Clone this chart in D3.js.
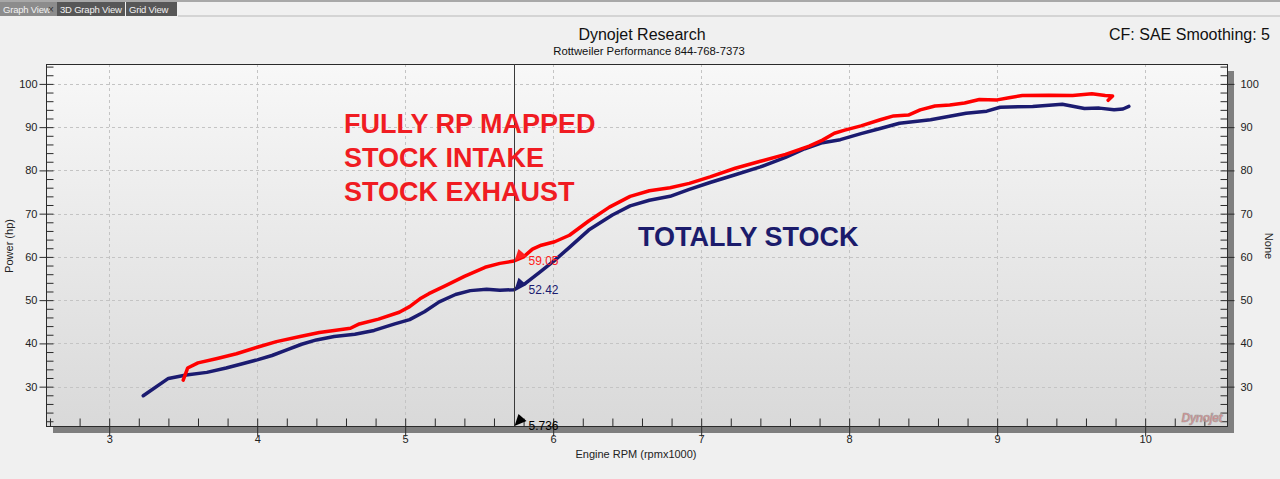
<!DOCTYPE html>
<html><head><meta charset="utf-8">
<script src="https://cdn.jsdelivr.net/npm/d3@7/dist/d3.min.js"></script>
<style>
html,body{margin:0;padding:0;background:#f0f0f0;overflow:hidden;}
svg{display:block;font-family:"Liberation Sans",Arial,sans-serif;}
</style></head>
<body>
<svg id="c" width="1280" height="479"></svg>
<script>
// ---- data ----
const xTicks = [3, 4, 5, 6, 7, 8, 9, 10];
const yTicks = [30, 40, 50, 60, 70, 80, 90, 100];
const tabLabels = ["Graph View", "3D Graph View", "Grid View"];
const annotationLines = ["FULLY RP MAPPED", "STOCK INTAKE", "STOCK EXHAUST"];
const stockLabel = "TOTALLY STOCK";
const cursorRpm = 5.736;
const cursorMapped = 59.05;
const cursorStock = 52.42;

// RP mapped run (rpm x1000, hp)
const mappedRpm = [3.50,3.53,3.60,3.73,3.86,4.00,4.13,4.29,4.42,4.52,4.63,4.69,4.82,4.96,5.03,5.10,5.16,5.27,5.40,5.54,5.64,5.736,5.80,5.86,5.92,6.01,6.11,6.24,6.38,6.52,6.65,6.79,6.92,7.06,7.23,7.40,7.57,7.73,7.82,7.90,7.97,8.08,8.21,8.30,8.40,8.48,8.58,8.68,8.78,8.88,9.00,9.08,9.17,9.35,9.51,9.64,9.73,9.78,9.75];
const mappedHp  = [31.5,34.3,35.5,36.5,37.6,39.1,40.4,41.6,42.5,43.0,43.5,44.5,45.6,47.2,48.5,50.3,51.5,53.3,55.5,57.6,58.5,59.05,60.0,61.8,62.7,63.5,65.0,68.3,71.5,74.0,75.3,76.0,77.0,78.5,80.5,82.1,83.7,85.6,87.0,88.6,89.3,90.3,91.7,92.6,92.8,94.0,94.9,95.1,95.6,96.4,96.3,96.8,97.3,97.4,97.3,97.7,97.3,97.2,96.2];

// Totally stock run
const stockRpm = [3.23,3.40,3.52,3.66,3.79,3.90,4.00,4.10,4.20,4.30,4.40,4.52,4.66,4.79,4.93,5.03,5.13,5.23,5.34,5.44,5.55,5.64,5.736,5.81,5.91,6.01,6.11,6.24,6.40,6.52,6.65,6.79,6.92,7.06,7.23,7.40,7.57,7.70,7.82,7.94,8.08,8.21,8.34,8.55,8.79,8.93,9.02,9.24,9.44,9.59,9.69,9.79,9.85,9.89];
const stockHp  = [27.9,31.9,32.7,33.3,34.3,35.3,36.2,37.2,38.5,39.8,40.8,41.6,42.1,43.0,44.5,45.5,47.3,49.6,51.3,52.2,52.5,52.3,52.42,53.8,56.5,59.2,62.2,66.2,69.7,71.8,73.1,74.0,75.6,77.2,79.0,80.8,83.0,85.0,86.4,87.1,88.5,89.7,90.9,91.7,93.2,93.7,94.6,94.8,95.3,94.3,94.4,94.0,94.2,94.8];

const xMinor = d3.range(2.6, 10.55, 0.2).map(v => +v.toFixed(1));
const yMinor = d3.range(22, 105, 2);

// ---- layout ----
const L = 46, R = 1227, T = 64, B = 426;
const x = d3.scaleLinear().domain([2.573, 10.553]).range([L, R]);
const y = d3.scaleLinear().domain([20.9, 104.6]).range([B, T]);

const svg = d3.select("#c");
const defs = svg.append("defs");
const g = defs.append("linearGradient").attr("id","bg").attr("x1",0).attr("y1",0).attr("x2",0).attr("y2",1);
g.append("stop").attr("offset","0%").attr("stop-color","#f8f8f8");
g.append("stop").attr("offset","100%").attr("stop-color","#d9d9d9");

// tabs
svg.append("rect").attr("x",0).attr("y",0).attr("width",1280).attr("height",2).attr("fill","#a8a8a8");
svg.append("rect").attr("x",178).attr("y",15.5).attr("width",1102).attr("height",1).attr("fill","#b8b8b8");
const tabX = [0, 57, 126, 178];
tabLabels.forEach((t, i) => {
  svg.append("rect").attr("x", tabX[i]).attr("y", 2).attr("width", tabX[i+1]-tabX[i]-(i>0?1:0)).attr("height", 14)
     .attr("fill", i === 0 ? "#8c8c8c" : "#575757");
  svg.append("text").attr("x", tabX[i] + 3).attr("y", 12.5).attr("font-size", 9.5).attr("letter-spacing", -0.2).attr("fill", "#f2f2f2").text(t);
});
svg.append("text").attr("x", 48).attr("y", 12.5).attr("font-size", 10).attr("fill", "#333").text("×");

// titles
svg.append("text").attr("x", 642).attr("y", 40).attr("text-anchor","middle").attr("font-size",16).attr("fill","#111").text("Dynojet Research");
svg.append("text").attr("x", 649).attr("y", 55).attr("text-anchor","middle").attr("font-size",11.3).attr("fill","#111").text("Rottweiler Performance 844-768-7373");
svg.append("text").attr("x", 1270).attr("y", 40).attr("text-anchor","end").attr("font-size",16).attr("fill","#111").text("CF: SAE Smoothing: 5");

// shadow
svg.append("rect").attr("x", R).attr("y", T+7).attr("width", 7).attr("height", B - T).attr("fill","#7f7f7f");
svg.append("rect").attr("x", L+7).attr("y", B).attr("width", R - L).attr("height", 7).attr("fill","#7f7f7f");

// plot bg
svg.append("rect").attr("x", L).attr("y", T).attr("width", R-L).attr("height", B-T).attr("fill","url(#bg)");

// grid
const grid = svg.append("g").attr("stroke","#c4c4c4").attr("stroke-dasharray","3,3").attr("stroke-width",1);
yTicks.forEach(v => grid.append("line").attr("x1",L).attr("x2",R).attr("y1",Math.round(y(v))+0.5).attr("y2",Math.round(y(v))+0.5));
xTicks.forEach(v => grid.append("line").attr("y1",T).attr("y2",B).attr("x1",Math.round(x(v))+0.5).attr("x2",Math.round(x(v))+0.5));

// border
svg.append("rect").attr("x",L+0.5).attr("y",T+0.5).attr("width",R-L).attr("height",B-T).attr("fill","none").attr("stroke","#2b2b2b").attr("stroke-width",1);

// axes
function styleAxis(sel){ sel.select(".domain").remove(); sel.selectAll("line").attr("stroke","#2b2b2b"); sel.selectAll("text").attr("fill","#222").attr("font-size",11).attr("font-family","Liberation Sans, Arial, sans-serif"); }
svg.append("g").attr("transform",`translate(${L+0.5},0)`).call(d3.axisLeft(y).tickValues(yTicks).tickSize(7).tickPadding(2)).call(styleAxis);
svg.append("g").attr("transform",`translate(${L+0.5},0)`).call(d3.axisRight(y).tickValues(yMinor).tickSize(7).tickFormat("")).call(styleAxis);
svg.append("g").attr("transform",`translate(${R+0.5},0)`).call(d3.axisRight(y).tickValues(yTicks).tickSize(7).tickPadding(6)).call(styleAxis);
svg.append("g").attr("transform",`translate(${R+0.5},0)`).call(d3.axisLeft(y).tickValues(yMinor).tickSize(7).tickFormat("")).call(styleAxis);
const xa = svg.append("g").attr("transform",`translate(0,${B+0.5})`).call(d3.axisBottom(x).tickValues(xTicks).tickSize(10).tickPadding(2)).call(styleAxis);
xa.selectAll("text").attr("y", 16).attr("dy", 0);
svg.append("g").attr("transform",`translate(0,${B+0.5})`).call(d3.axisTop(x).tickValues(xMinor).tickSize(8).tickFormat("")).call(styleAxis);

// axis titles
svg.append("text").attr("transform","translate(13,246) rotate(-90)").attr("text-anchor","middle").attr("font-size",11).attr("fill","#222").text("Power (hp)");
svg.append("text").attr("transform","translate(1265,246) rotate(90)").attr("text-anchor","middle").attr("font-size",11).attr("fill","#222").text("None");
svg.append("text").attr("x",636).attr("y",458).attr("text-anchor","middle").attr("font-size",11).attr("fill","#222").text("Engine RPM (rpmx1000)");

// logo
svg.append("text").attr("x",1222).attr("y",422).attr("text-anchor","end").attr("font-size",12).attr("font-weight","bold").attr("font-style","italic")
  .attr("fill","#d98080").attr("stroke","#9a9a9a").attr("stroke-width",0.6).attr("opacity",0.85).attr("letter-spacing","-0.5").text("Dynojet");

// curves
const line = d3.line().x(d => x(d[0])).y(d => y(d[1]));
const mapped = mappedRpm.map((r,i) => [r, mappedHp[i]]);
const stock = stockRpm.map((r,i) => [r, stockHp[i]]);
svg.append("path").datum(stock).attr("d", line).attr("fill","none").attr("stroke","#1b1b70").attr("stroke-width",3.5).attr("stroke-linejoin","round").attr("stroke-linecap","round");
svg.append("path").datum(mapped).attr("d", line).attr("fill","none").attr("stroke","#ff0000").attr("stroke-width",3.5).attr("stroke-linejoin","round").attr("stroke-linecap","round");

// cursor
const cx = Math.round(x(cursorRpm)) + 0.5;
svg.append("line").attr("x1",cx).attr("x2",cx).attr("y1",T).attr("y2",B).attr("stroke","#3a3a3a").attr("stroke-width",1);
function marker(px, py, col, label){
  svg.append("path").attr("d",`M${px},${py} L${px+4},${py-12} L${px+12},${py-5} Z`).attr("fill",col);
  svg.append("text").attr("x", px+14).attr("y", py+4).attr("font-size",12).attr("fill",col).text(label);
}
marker(cx, y(cursorMapped), "#ff2020", cursorMapped.toFixed(2));
marker(cx, y(cursorStock), "#1b1b70", cursorStock.toFixed(2));
marker(cx, B, "#000", cursorRpm.toFixed(3));

// annotations
annotationLines.forEach((t,i) => {
  svg.append("text").attr("x",344).attr("y",133 + i*34).attr("font-size",27).attr("font-weight","bold").attr("fill","#f01c22").text(t);
});
svg.append("text").attr("x",638).attr("y",246).attr("font-size",27).attr("font-weight","bold").attr("fill","#1b1b6b").text(stockLabel);
</script>
</body></html>
